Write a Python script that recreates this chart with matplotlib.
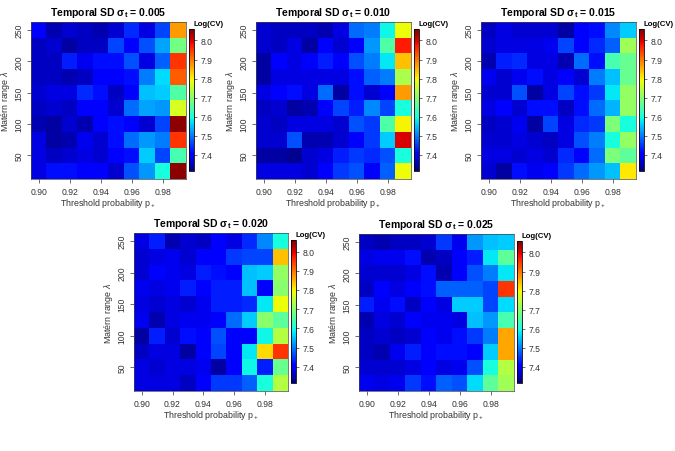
import numpy as np
import matplotlib
matplotlib.use("Agg")
import matplotlib.pyplot as plt

plt.rcParams['font.family'] = ['Liberation Sans', 'DejaVu Sans']
plt.rcParams['mathtext.fontset'] = 'custom'
plt.rcParams['mathtext.rm'] = 'Liberation Sans'
plt.rcParams['mathtext.it'] = 'Liberation Sans:italic'
plt.rcParams['mathtext.bf'] = 'Liberation Sans:bold'

# threshold probabilities (columns) and Matern ranges (rows)
p_vals = [0.90, 0.91, 0.92, 0.93, 0.94, 0.95, 0.96, 0.97, 0.98, 0.99]
lam_vals = [25, 50, 75, 100, 125, 150, 175, 200, 225, 250]
sigma_labels = ["0.005", "0.010", "0.015", "0.020", "0.025"]

# Log(CV), rows listed from lambda=250 (top) down to lambda=25
cv_005 = [
    [7.40, 7.35, 7.37, 7.36, 7.35, 7.37, 7.44, 7.38, 7.46, 7.87],
    [7.36, 7.37, 7.34, 7.36, 7.36, 7.46, 7.40, 7.47, 7.53, 7.68],
    [7.36, 7.36, 7.43, 7.39, 7.42, 7.42, 7.47, 7.38, 7.48, 7.95],
    [7.36, 7.36, 7.35, 7.36, 7.41, 7.40, 7.42, 7.50, 7.57, 7.92],
    [7.37, 7.38, 7.38, 7.44, 7.42, 7.36, 7.40, 7.55, 7.56, 7.65],
    [7.36, 7.37, 7.36, 7.41, 7.40, 7.37, 7.49, 7.53, 7.52, 7.77],
    [7.35, 7.34, 7.37, 7.35, 7.41, 7.42, 7.41, 7.37, 7.46, 8.05],
    [7.38, 7.34, 7.35, 7.39, 7.37, 7.42, 7.49, 7.52, 7.50, 7.95],
    [7.38, 7.36, 7.37, 7.38, 7.37, 7.40, 7.42, 7.56, 7.46, 7.64],
    [7.38, 7.42, 7.42, 7.40, 7.40, 7.37, 7.47, 7.52, 7.60, 8.05],
]
cv_010 = [
    [7.37, 7.36, 7.36, 7.36, 7.35, 7.38, 7.49, 7.50, 7.59, 7.79],
    [7.37, 7.36, 7.38, 7.34, 7.41, 7.37, 7.40, 7.52, 7.65, 7.97],
    [7.34, 7.41, 7.38, 7.40, 7.43, 7.40, 7.47, 7.50, 7.58, 7.84],
    [7.34, 7.38, 7.38, 7.38, 7.38, 7.38, 7.42, 7.48, 7.50, 7.73],
    [7.38, 7.40, 7.42, 7.38, 7.49, 7.34, 7.42, 7.37, 7.41, 7.87],
    [7.36, 7.37, 7.34, 7.35, 7.40, 7.46, 7.43, 7.51, 7.46, 7.60],
    [7.37, 7.36, 7.38, 7.38, 7.38, 7.37, 7.47, 7.45, 7.65, 7.80],
    [7.37, 7.37, 7.47, 7.35, 7.35, 7.37, 7.40, 7.45, 7.56, 8.00],
    [7.34, 7.34, 7.33, 7.37, 7.38, 7.43, 7.45, 7.44, 7.47, 7.60],
    [7.38, 7.38, 7.38, 7.37, 7.41, 7.45, 7.47, 7.40, 7.48, 7.79],
]
cv_015 = [
    [7.36, 7.38, 7.37, 7.37, 7.37, 7.34, 7.40, 7.42, 7.51, 7.56],
    [7.37, 7.38, 7.38, 7.38, 7.39, 7.46, 7.41, 7.44, 7.48, 7.72],
    [7.35, 7.43, 7.44, 7.38, 7.38, 7.35, 7.49, 7.42, 7.64, 7.67],
    [7.39, 7.37, 7.39, 7.42, 7.38, 7.41, 7.37, 7.50, 7.55, 7.67],
    [7.37, 7.37, 7.47, 7.34, 7.38, 7.46, 7.42, 7.45, 7.58, 7.71],
    [7.38, 7.40, 7.37, 7.42, 7.42, 7.36, 7.42, 7.49, 7.54, 7.71],
    [7.36, 7.37, 7.39, 7.34, 7.46, 7.38, 7.44, 7.45, 7.69, 7.60],
    [7.37, 7.37, 7.38, 7.37, 7.36, 7.38, 7.47, 7.50, 7.60, 7.71],
    [7.38, 7.38, 7.37, 7.38, 7.37, 7.44, 7.41, 7.49, 7.69, 7.66],
    [7.37, 7.34, 7.42, 7.39, 7.40, 7.45, 7.49, 7.52, 7.55, 7.81],
]
cv_020 = [
    [7.38, 7.43, 7.35, 7.37, 7.36, 7.41, 7.38, 7.44, 7.51, 7.60],
    [7.37, 7.38, 7.39, 7.37, 7.40, 7.40, 7.45, 7.46, 7.46, 7.84],
    [7.37, 7.40, 7.39, 7.38, 7.43, 7.42, 7.40, 7.55, 7.56, 7.71],
    [7.39, 7.38, 7.39, 7.43, 7.41, 7.43, 7.43, 7.55, 7.40, 7.70],
    [7.38, 7.37, 7.38, 7.37, 7.39, 7.43, 7.43, 7.44, 7.58, 7.79],
    [7.39, 7.35, 7.38, 7.39, 7.39, 7.41, 7.49, 7.56, 7.70, 7.66],
    [7.34, 7.43, 7.37, 7.42, 7.40, 7.47, 7.41, 7.40, 7.59, 7.74],
    [7.36, 7.38, 7.38, 7.34, 7.40, 7.46, 7.40, 7.58, 7.82, 7.95],
    [7.38, 7.37, 7.38, 7.38, 7.39, 7.34, 7.41, 7.59, 7.43, 7.67],
    [7.38, 7.38, 7.38, 7.36, 7.40, 7.45, 7.45, 7.48, 7.60, 7.74],
]
cv_025 = [
    [7.36, 7.35, 7.36, 7.36, 7.37, 7.45, 7.39, 7.52, 7.55, 7.56],
    [7.38, 7.39, 7.39, 7.42, 7.35, 7.36, 7.40, 7.43, 7.58, 7.66],
    [7.37, 7.37, 7.37, 7.38, 7.42, 7.35, 7.41, 7.47, 7.50, 7.58],
    [7.36, 7.41, 7.38, 7.41, 7.42, 7.48, 7.48, 7.48, 7.46, 7.95],
    [7.43, 7.39, 7.42, 7.36, 7.41, 7.38, 7.56, 7.56, 7.46, 7.57],
    [7.35, 7.38, 7.37, 7.41, 7.39, 7.39, 7.38, 7.55, 7.52, 7.64],
    [7.36, 7.37, 7.36, 7.37, 7.40, 7.39, 7.42, 7.45, 7.50, 7.86],
    [7.36, 7.35, 7.39, 7.43, 7.40, 7.42, 7.42, 7.41, 7.56, 7.86],
    [7.37, 7.37, 7.37, 7.38, 7.41, 7.38, 7.39, 7.47, 7.60, 7.74],
    [7.39, 7.38, 7.39, 7.45, 7.42, 7.48, 7.47, 7.57, 7.66, 7.72],
]
all_cv = [cv_005, cv_010, cv_015, cv_020, cv_025]

vmin, vmax = 7.316, 8.06
W, H = 675, 452

# panel placement in pixels: (left, top, right, bottom)
boxes = [(31, 23, 186, 180), (256, 23, 411, 180), (481, 23, 636, 180),
         (134, 234, 288, 392), (359, 235, 514, 392)]

fig = plt.figure(figsize=(W / 100, H / 100), dpi=100)

dp = (p_vals[1] - p_vals[0]) / 2
dl = (lam_vals[1] - lam_vals[0]) / 2
ext = [p_vals[0] - dp, p_vals[-1] + dp, lam_vals[0] - dl, lam_vals[-1] + dl]

for cv, sig, (l, t, r, b) in zip(all_cv, sigma_labels, boxes):
    ax = fig.add_axes([l / W, 1 - b / H, (r - l) / W, (b - t) / H])
    im = ax.imshow(np.array(cv), cmap='jet', vmin=vmin, vmax=vmax,
                   extent=ext, aspect='auto', interpolation='nearest')
    ax.set_xticks([0.90, 0.92, 0.94, 0.96, 0.98])
    ax.set_xticklabels(["0.90", "0.92", "0.94", "0.96", "0.98"])
    ax.set_yticks([50, 100, 150, 200, 250])
    ax.set_yticklabels(["50", "100", "150", "200", "250"],
                       rotation=90, va='center')
    ax.tick_params(labelsize=6.2, length=3, width=0.5, pad=2.5,
                   colors='#333333')
    for s in ax.spines.values():
        s.set_linewidth(0.5)
        s.set_color('#444444')
    ax.set_xlabel(r'Threshold probability p$_+$', fontsize=6.4, labelpad=0,
                  color='#333333')
    ax.set_ylabel(r'Matérn range $\lambda$', fontsize=6.4, labelpad=1.5,
                  color='#333333')
    ax.set_title(r'Temporal SD $\mathbf{\sigma_t}$ = ' + sig, fontsize=7.5,
                 fontweight='bold', pad=5)

    # colour bar to the right
    cax = fig.add_axes([(r + 3) / W, 1 - (b - 8) / H, 5 / W,
                        (b - t - 15) / H])
    cb = fig.colorbar(im, cax=cax)
    cb.set_ticks([7.4, 7.5, 7.6, 7.7, 7.8, 7.9, 8.0])
    cb.ax.tick_params(labelsize=6.2, length=2.5, width=0.5, pad=2,
                      colors='#333333')
    cb.outline.set_linewidth(0.6)
    cax.text(3.9, 1.015, 'Log(CV)', transform=cax.transAxes, ha='center',
             va='bottom', fontsize=5.6, fontweight='bold')

fig.savefig('out.png', dpi=100)
